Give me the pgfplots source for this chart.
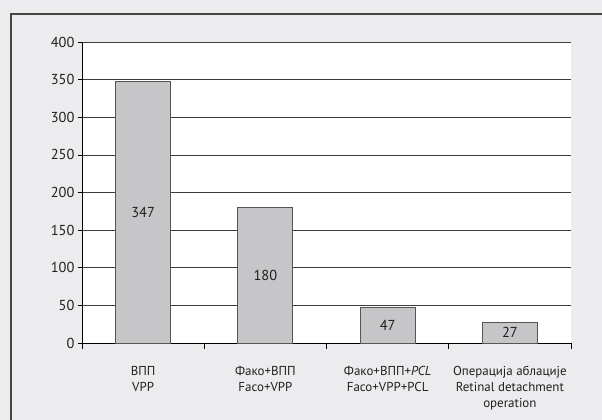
\documentclass[border=0pt]{standalone}
\usepackage{pgfplots}
\pgfplotsset{compat=1.18}
\usepackage{fontspec}
\setmainfont{PT Sans}
\usetikzlibrary{backgrounds,calc}
\definecolor{pagegray}{RGB}{236,236,238}
\definecolor{barfill}{RGB}{198,198,200}
\definecolor{barline}{RGB}{85,85,85}
\definecolor{gridgray}{RGB}{60,60,60}
\definecolor{frameline}{RGB}{70,70,70}
\definecolor{txt}{RGB}{35,31,32}

\begin{document}
\begin{tikzpicture}
\begin{axis}[
  scale only axis, width=489bp, height=301bp,
  xmin=-0.5, xmax=3.5, ymin=0, ymax=400,
  axis lines=left, axis line style={-, black, line width=0.9pt},
  axis background/.style={fill=white},
  ytick={0,50,...,400},
  ymajorgrids, grid style={gridgray, line width=0.7pt},
  xtick={0,1,2,3},
  xticklabels={{ВПП\\VPP},{Фако+ВПП\\Faco+VPP},{Фако+ВПП+\textit{PCL}\\Faco+VPP+PCL},{Операција аблације\\Retinal detachment\\operation}},
  minor xtick={-0.5,0.5,1.5,2.5,3.5},
  major x tick style={draw=none},
  tick align=outside,
  major tick length=4bp, minor tick length=6bp,
  tick style={black, line width=0.7pt},
  /pgf/number format/assume math mode=true,
  yticklabel style={font=\fontsize{14.5}{16}\selectfont, text=txt},
  xticklabel style={font=\fontsize{13}{15.7}\selectfont, text=txt, align=center, yshift=-16bp},
]
\addplot[ybar, bar width=55bp, fill=barfill, draw=barline, line width=0.9pt,
  nodes near coords,
  visualization depends on={rawy \as \rawy},
  every node near coord/.append style={anchor=center, text=txt,
    font=\fontsize{14.5}{16}\selectfont,
    shift={(axis direction cs:0,-\rawy/2)}},
] coordinates {(0,347) (1,180) (2,47) (3,27)};
\coordinate (sw) at (rel axis cs:0,0);
\coordinate (ne) at (rel axis cs:1,1);
\end{axis}
\coordinate (bgSW) at ($(sw)+(-82bp,-77bp)$);
\coordinate (bgNE) at ($(ne)+(31bp,42bp)$);
\begin{scope}[on background layer]
  \fill[pagegray] (bgSW) rectangle (bgNE);
\end{scope}
\draw[frameline, line width=1.2bp]
  ($(sw)+(-71bp,-90bp)$) -- ($(sw |- ne)+(-71bp,28bp)$) -- ($(ne)+(45bp,28bp)$);
\pgfresetboundingbox
\path[use as bounding box] (bgSW) rectangle (bgNE);
\end{tikzpicture}
\end{document}
